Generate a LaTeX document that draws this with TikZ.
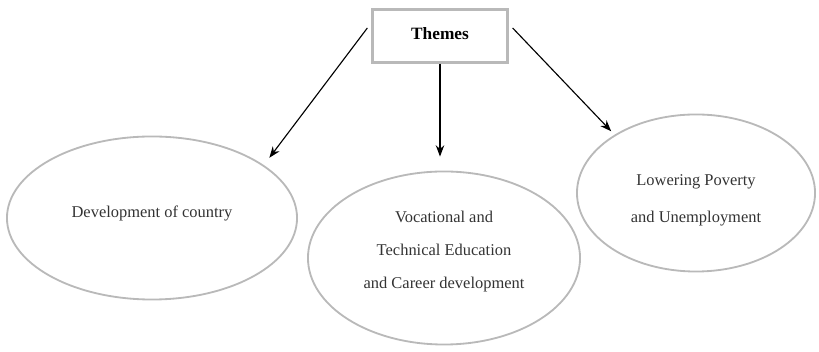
\documentclass[tikz,border=0pt]{standalone}
\usepackage{fontspec}
\setmainfont{Liberation Serif}
\usetikzlibrary{shapes.geometric, arrows.meta, positioning, calc}

\begin{document}
\begin{tikzpicture}[x=0.025cm, y=0.025cm, font=\fontsize{11.7}{13}\selectfont, text=black!80]
    \useasboundingbox (0,0) rectangle (819,352);
    \tikzset{theme/.style={ellipse, draw=gray!55, line width=1.3pt, align=center, inner sep=0pt}}

    \node (themes) [rectangle, draw=gray!55, line width=1.6pt, minimum width=3.375cm, minimum height=1.325cm, font=\fontsize{12.3}{13}\selectfont\bfseries, text=black, text depth=4pt] at (440,316) {Themes};

    \node (dev) [theme, minimum width=7.25cm, minimum height=4.075cm, text depth=8.7pt] at (152,134) {Development of country};
    \node (voc) [theme, minimum width=6.8cm, minimum height=4.325cm, font=\fontsize{11.7}{23.5}\selectfont, text depth=11.5pt] at (444,94) {Vocational and\\Technical Education\\and Career development};
    \node (pov) [theme, minimum width=5.95cm, minimum height=3.925cm, font=\fontsize{11.7}{26.5}\selectfont, text height=45pt] at (696,159) {Lowering Poverty\\and Unemployment};

    \draw [-{Stealth[length=8pt,width=6pt]}, line width=0.8pt] ([shift={(-4,8)}]themes.west) -- ([shift={(9,5)}]dev.27);
    \draw [-{Stealth[length=8pt,width=6pt]}, line width=0.8pt] (themes.south) -- ([yshift=14*0.025cm]themes.south |- voc.north);
    \draw [-{Stealth[length=8pt,width=6pt]}, line width=0.8pt] ([shift={(4,8)}]themes.east) -- ([shift={(-4,3)}]pov.144);
\end{tikzpicture}
\end{document}
